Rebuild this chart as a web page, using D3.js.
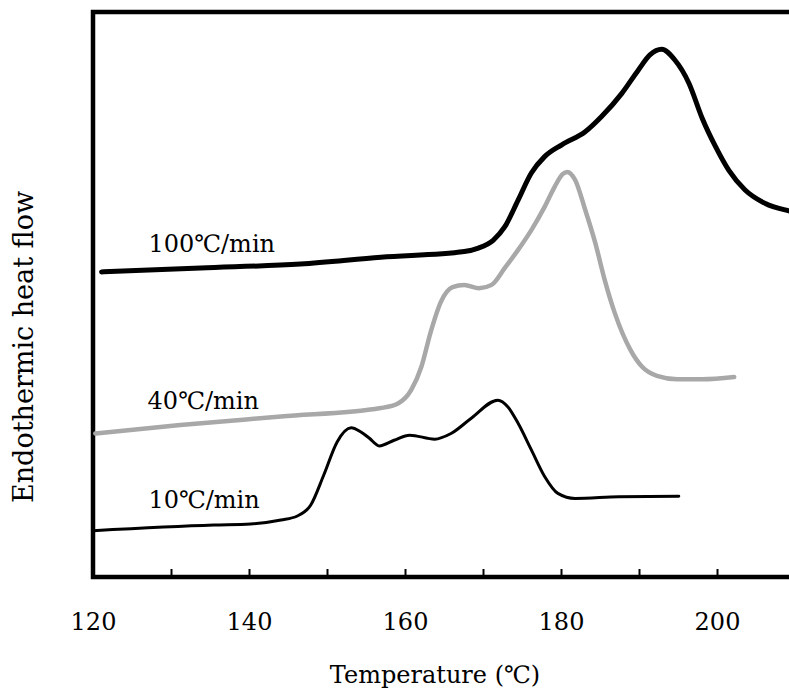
<!DOCTYPE html>
<html>
<head>
<meta charset="utf-8">
<script src="https://cdn.jsdelivr.net/npm/d3@7"></script>
<style>
  body { margin: 0; background: #fff; }
  svg { display: block; font-family: "DejaVu Serif", "Noto Sans CJK JP", serif; }
  .tick text { font-size: 24px; fill: #000; }
</style>
</head>
<body>
<svg id="chart"></svg>
<script>
// DSC traces (temperature in degC, heat flow in arbitrary units)
const temp100 = [121.1, 133.8, 146.6, 156.9, 167.6, 169.4, 171.3, 172.8, 174.5, 176.2, 177.9, 180.1,
  183.1, 185.2, 187.8, 189.9, 191.4, 192.9, 194.6, 196.4, 198.1, 199.8, 201.5, 203.6, 206.2, 209.5, 210.3];
const flow100 = [54.0, 54.7, 55.4, 56.6, 57.6, 58.2, 59.6, 62.0, 66.7, 71.5, 74.4, 76.5,
  78.8, 81.5, 85.6, 89.7, 92.4, 93.4, 91.5, 87.4, 81.2, 76.2, 72.0, 68.5, 66.1, 64.7, 64.4];

const temp40 = [120.3, 131.2, 144.1, 156.9, 159.1, 160.8, 162.1, 163.3, 164.6, 166.1, 167.6, 169.5,
  171.1, 172.8, 174.5, 176.2, 177.9, 179.2, 180.2, 180.8, 181.8, 183.1, 184.4, 185.6, 186.9, 188.9,
  190.4, 192.3, 194.9, 198.1, 202.2];
const flow40 = [25.4, 26.9, 28.4, 29.9, 30.7, 33.1, 37.2, 43.4, 48.7, 51.3, 51.7, 51.1,
  51.7, 54.7, 57.9, 61.4, 65.5, 69.1, 71.3, 71.7, 70.3, 65.0, 59.1, 52.6, 46.7, 40.2,
  37.2, 35.6, 35.0, 35.0, 35.4];

const temp10 = [120.0, 135.5, 140.2, 144.1, 146.2, 147.9, 149.6, 151.3, 153.1, 154.3, 155.4, 156.7,
  158.6, 160.6, 163.8, 165.9, 168.5, 171.9, 173.2, 174.5, 176.2, 177.9, 179.6, 181.8, 187.4, 195.1];
const flow10 = [8.2, 9.2, 9.4, 10.1, 10.8, 12.7, 18.1, 23.9, 26.4, 25.7, 24.6, 23.2,
  24.2, 25.1, 24.4, 25.4, 28.1, 31.3, 30.1, 27.2, 22.5, 17.8, 14.8, 13.9, 14.2, 14.3];

const rateLabels = ['100℃/min', '40℃/min', '10℃/min'];
const xMajorTicks = [120, 140, 160, 180, 200];
const xMinorTicks = [130, 150, 170, 190];
const xTitle = 'Temperature (℃)';
const yTitle = 'Endothermic heat flow';

class DscChart {

  constructor(_config) {
    this.config = {
      parentElement: _config.parentElement,
      containerWidth: _config.containerWidth || 789,
      containerHeight: _config.containerHeight || 700,
      margin: _config.margin || {top: 12, right: -6, bottom: 123, left: 93},
      xDomain: _config.xDomain || [120, 210],
      yDomain: _config.yDomain || [0, 100]
    };
    this.initVis();
  }

  initVis() {
    let vis = this;
    const m = vis.config.margin;
    vis.width = vis.config.containerWidth - m.left - m.right;
    vis.height = vis.config.containerHeight - m.top - m.bottom;

    vis.xScale = d3.scaleLinear().domain(vis.config.xDomain).range([0, vis.width]);
    vis.yScale = d3.scaleLinear().domain(vis.config.yDomain).range([vis.height, 0]);

    vis.svg = d3.select(vis.config.parentElement)
        .attr('width', vis.config.containerWidth)
        .attr('height', vis.config.containerHeight);

    vis.chart = vis.svg.append('g')
        .attr('transform', `translate(${m.left},${m.top})`);

    vis.line = d3.line()
        .x(d => vis.xScale(d[0]))
        .y(d => vis.yScale(d[1]))
        .curve(d3.curveMonotoneX);
  }

  renderVis() {
    let vis = this;

    // ticks point inward, labels only on the major ones
    vis.chart.append('g')
        .attr('transform', `translate(0,${vis.height})`)
        .call(d3.axisBottom(vis.xScale).tickValues(xMinorTicks).tickSizeInner(-8).tickSizeOuter(0).tickFormat(''))
        .call(g => g.select('.domain').remove())
        .call(g => g.selectAll('line').attr('stroke', '#000').attr('stroke-width', 2));

    vis.chart.append('g')
        .attr('transform', `translate(0,${vis.height})`)
        .call(d3.axisBottom(vis.xScale).tickValues(xMajorTicks).tickSizeInner(-8).tickSizeOuter(0).tickPadding(36))
        .attr('font-family', null)
        .attr('font-size', null)
        .call(g => g.select('.domain').remove())
        .call(g => g.selectAll('line').attr('stroke', '#000').attr('stroke-width', 2));

    // frame (right side runs off the picture)
    vis.chart.append('rect')
        .attr('x', 0)
        .attr('y', 0)
        .attr('width', vis.width + 4)
        .attr('height', vis.height)
        .attr('fill', 'none')
        .attr('stroke', '#000')
        .attr('stroke-width', 4.5);

    const series = [
      {t: temp100, f: flow100, color: '#000', w: 5},
      {t: temp40, f: flow40, color: '#a8a8a8', w: 4.5},
      {t: temp10, f: flow10, color: '#000', w: 3}
    ];

    vis.chart.selectAll('.trace')
        .data(series)
        .join('path')
        .attr('class', 'trace')
        .attr('d', d => vis.line(d.t.map((t, i) => [t, d.f[i]])))
        .attr('fill', 'none')
        .attr('stroke', d => d.color)
        .attr('stroke-width', d => d.w)
        .attr('stroke-linejoin', 'round')
        .attr('stroke-linecap', 'round');

    // rate labels, anchored in data space
    const labelPos = [[127.1, 57.5], [127.0, 29.7], [127.1, 12.2]];
    vis.chart.selectAll('.rate-label')
        .data(rateLabels)
        .join('text')
        .attr('class', 'rate-label')
        .attr('x', (d, i) => vis.xScale(labelPos[i][0]))
        .attr('y', (d, i) => vis.yScale(labelPos[i][1]))
        .attr('font-size', 24)
        .text(d => d);

    vis.svg.append('text')
        .attr('x', 435)
        .attr('y', 683)
        .attr('text-anchor', 'middle')
        .attr('font-size', 24)
        .text(xTitle);

    vis.svg.append('text')
        .attr('transform', 'translate(33,347) rotate(-90)')
        .attr('text-anchor', 'middle')
        .attr('font-size', 27)
        .text(yTitle);
  }
}

const chart = new DscChart({parentElement: '#chart'});
chart.renderVis();
</script>
</body>
</html>
